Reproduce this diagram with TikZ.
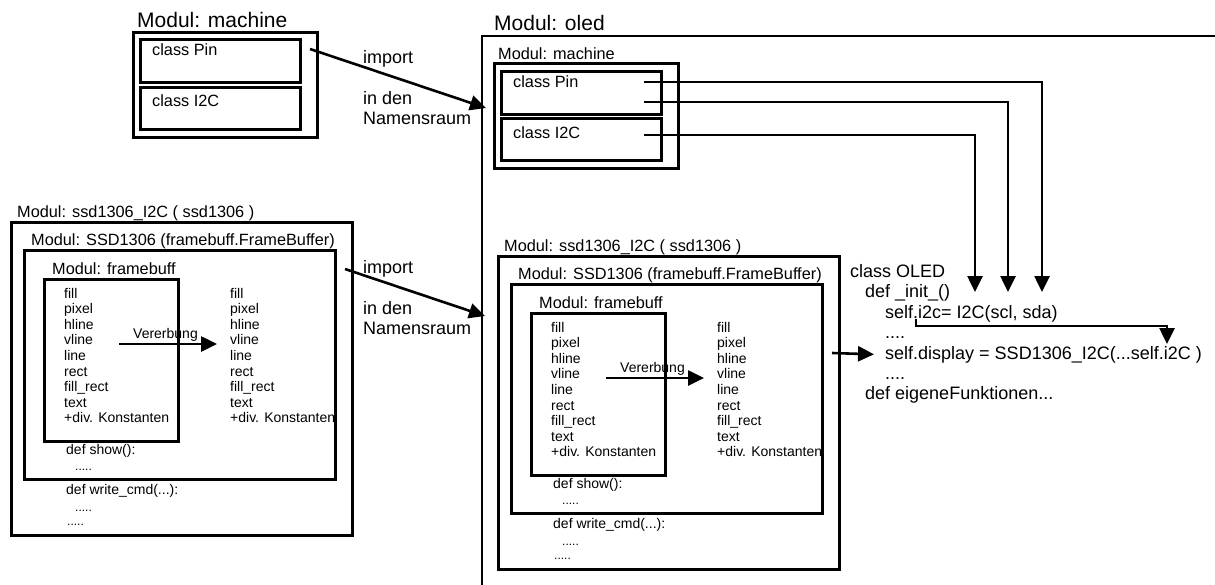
\documentclass[tikz,border=0pt]{standalone}
\usepackage{fontspec}
\setmainfont{Liberation Sans}
\usetikzlibrary{arrows.meta, positioning, calc}

% Modul ssd1306_I2C mit SSD1306 und framebuff (wird zweimal gezeichnet)
\newcommand{\ssdmodul}{%
  \node[mittel] (titel) at (7,-4) {Modul: ssd1306\_I2C ( ssd1306 )};
  \node[modbox, minimum width=341pt, minimum height=313pt] (aussen) at (0,0) {};
  \node[mittel] (ssdtitel) at (21,24) {Modul: SSD1306 (framebuff.FrameBuffer)};
  \node[modbox, minimum width=311pt, minimum height=229pt] (ssd) at (13,28) {};
  \node[mittel] (fbtitel) at (42,53) {Modul: framebuff};
  \node[modbox, minimum width=134pt, minimum height=162pt] (fb) at (33,57) {};
  % Funktionen und geerbte Funktionen
  \foreach \t [count=\i from 0] in {fill,pixel,hline,vline,line,rect,fill\_rect,text,+div. Konstanten}{
    \node[klein] (fb\i) at (54,77+15.6*\i) {\t};
    \node[klein] (erbe\i) at (220,77+15.6*\i) {\t};
  }
  \coordinate (erbA) at (109,123);
  \coordinate (erbB) at (207,123);
  \draw[pfeil] (erbA) -- (erbB);
  \node[klein] (erbtext) at (123,117) {Vererbung};
  \node[klein] (show) at (56,233) {def show():};
  \node[punkte] (show1) at (65,249) {.....};
  \node[klein] (write) at (56,273) {def write\_cmd(...):};
  \node[punkte] (write1) at (65,290) {.....};
  \node[punkte] (mehr) at (57,304) {.....};
}

\begin{document}
\begin{tikzpicture}[x=1pt, y=-1pt,
    % Node styles
    modbox/.style={draw, line width=3pt, inner sep=0pt, anchor=north west},
    gross/.style={anchor=base west, inner sep=0pt, font=\fontsize{21}{25}\selectfont},
    mittel/.style={anchor=base west, inner sep=0pt, font=\fontsize{16.3}{19}\selectfont},
    code/.style={anchor=base west, inner sep=0pt, font=\fontsize{18}{21}\selectfont},
    klein/.style={anchor=base west, inner sep=0pt, font=\fontsize{14}{16}\selectfont},
    punkte/.style={anchor=base west, inner sep=0pt, font=\fontsize{12}{14}\selectfont},
    pfeil/.style={-{Triangle[length=16pt, width=15pt]}, line width=2.6pt}
]
\useasboundingbox (0,0) rectangle (1215,584);

% Modul machine (links oben)
\node[gross] (machtitel) at (137,27) {Modul: machine};
\node[modbox, minimum width=184pt, minimum height=105pt] (mach) at (132,31) {};
\node[modbox, minimum width=160pt, minimum height=43pt] (pin) at (139,38) {};
\node[modbox, minimum width=160pt, minimum height=42pt] (i2c) at (139,86) {};
\node[mittel] (pintext) at (152,55) {class Pin};
\node[mittel] (i2ctext) at (152,106) {class I2C};

% import machine
\coordinate (imp1A) at (310,49);
\coordinate (imp1B) at (486,108);
\draw[pfeil] (imp1A) -- (imp1B);
\node[code] (imp1) at (363,63) {import};
\node[code] (imp1ns) at (363,104) {in den};
\node[code] (imp1raum) at (363,124) {Namensraum};

% Modul oled (rechts, angeschnitten)
\node[gross] (oledtitel) at (494,30) {Modul: oled};
\draw[line width=2.4pt] (482,592) -- (482,36) -- (1222,36);

% machine im Namensraum von oled
\node[mittel] (omachtitel) at (498,59) {Modul: machine};
\node[modbox, minimum width=184pt, minimum height=105pt] (omach) at (493,62) {};
\node[modbox, minimum width=160pt, minimum height=43pt] (opin) at (500,70) {};
\node[modbox, minimum width=160pt, minimum height=42pt] (oi2c) at (500,117) {};
\node[mittel] (opintext) at (513,87) {class Pin};
\node[mittel] (oi2ctext) at (513,138) {class I2C};

% Modul ssd1306_I2C links
\begin{scope}[shift={(10,221)}, name prefix=L-]
  \ssdmodul
\end{scope}

% import ssd1306_I2C
\coordinate (imp2A) at (345,269);
\coordinate (imp2B) at (485,316);
\draw[pfeil] (imp2A) -- (imp2B);
\node[code] (imp2) at (363,273) {import};
\node[code] (imp2ns) at (363,314) {in den};
\node[code] (imp2raum) at (363,334) {Namensraum};

% Modul ssd1306_I2C im Namensraum von oled
\begin{scope}[shift={(497,255)}, name prefix=R-]
  \ssdmodul
\end{scope}

% class OLED
\node[code] (oled) at (850,277) {class OLED};
\node[code] (init) at (865,297) {def \_init\_()};
\node[code] (selfi2c) at (885,318) {self.i2c= I2C(scl, sda)};
\node[code] (dots1) at (885,338) {....};
\node[code] (display) at (885,359) {self.display = SSD1306\_I2C(...self.i2C )};
\node[code] (dots2) at (885,379) {....};
\node[code] (eigene) at (865,399) {def eigeneFunktionen...};

% Verbindungen zu class OLED
\coordinate (pinaus1) at (644,82);
\coordinate (pinaus2) at (644,102);
\coordinate (i2caus) at (644,135);
\coordinate (pinein1) at (1042,292);
\coordinate (pinein2) at (1008,292);
\coordinate (i2cein) at (975,292);
\draw[pfeil] (pinaus1) -| (pinein1);
\draw[pfeil] (pinaus2) -| (pinein2);
\draw[pfeil] (i2caus) -| (i2cein);

\coordinate (selfaus) at (916,319);
\coordinate (selfein) at (1167,344);
\draw[pfeil] (selfaus) -- ++(0,7) -| (selfein);

\coordinate (dispaus) at (832,353);
\draw[pfeil] (dispaus) -- ([xshift=-11pt]display.west);

\end{tikzpicture}
\end{document}
